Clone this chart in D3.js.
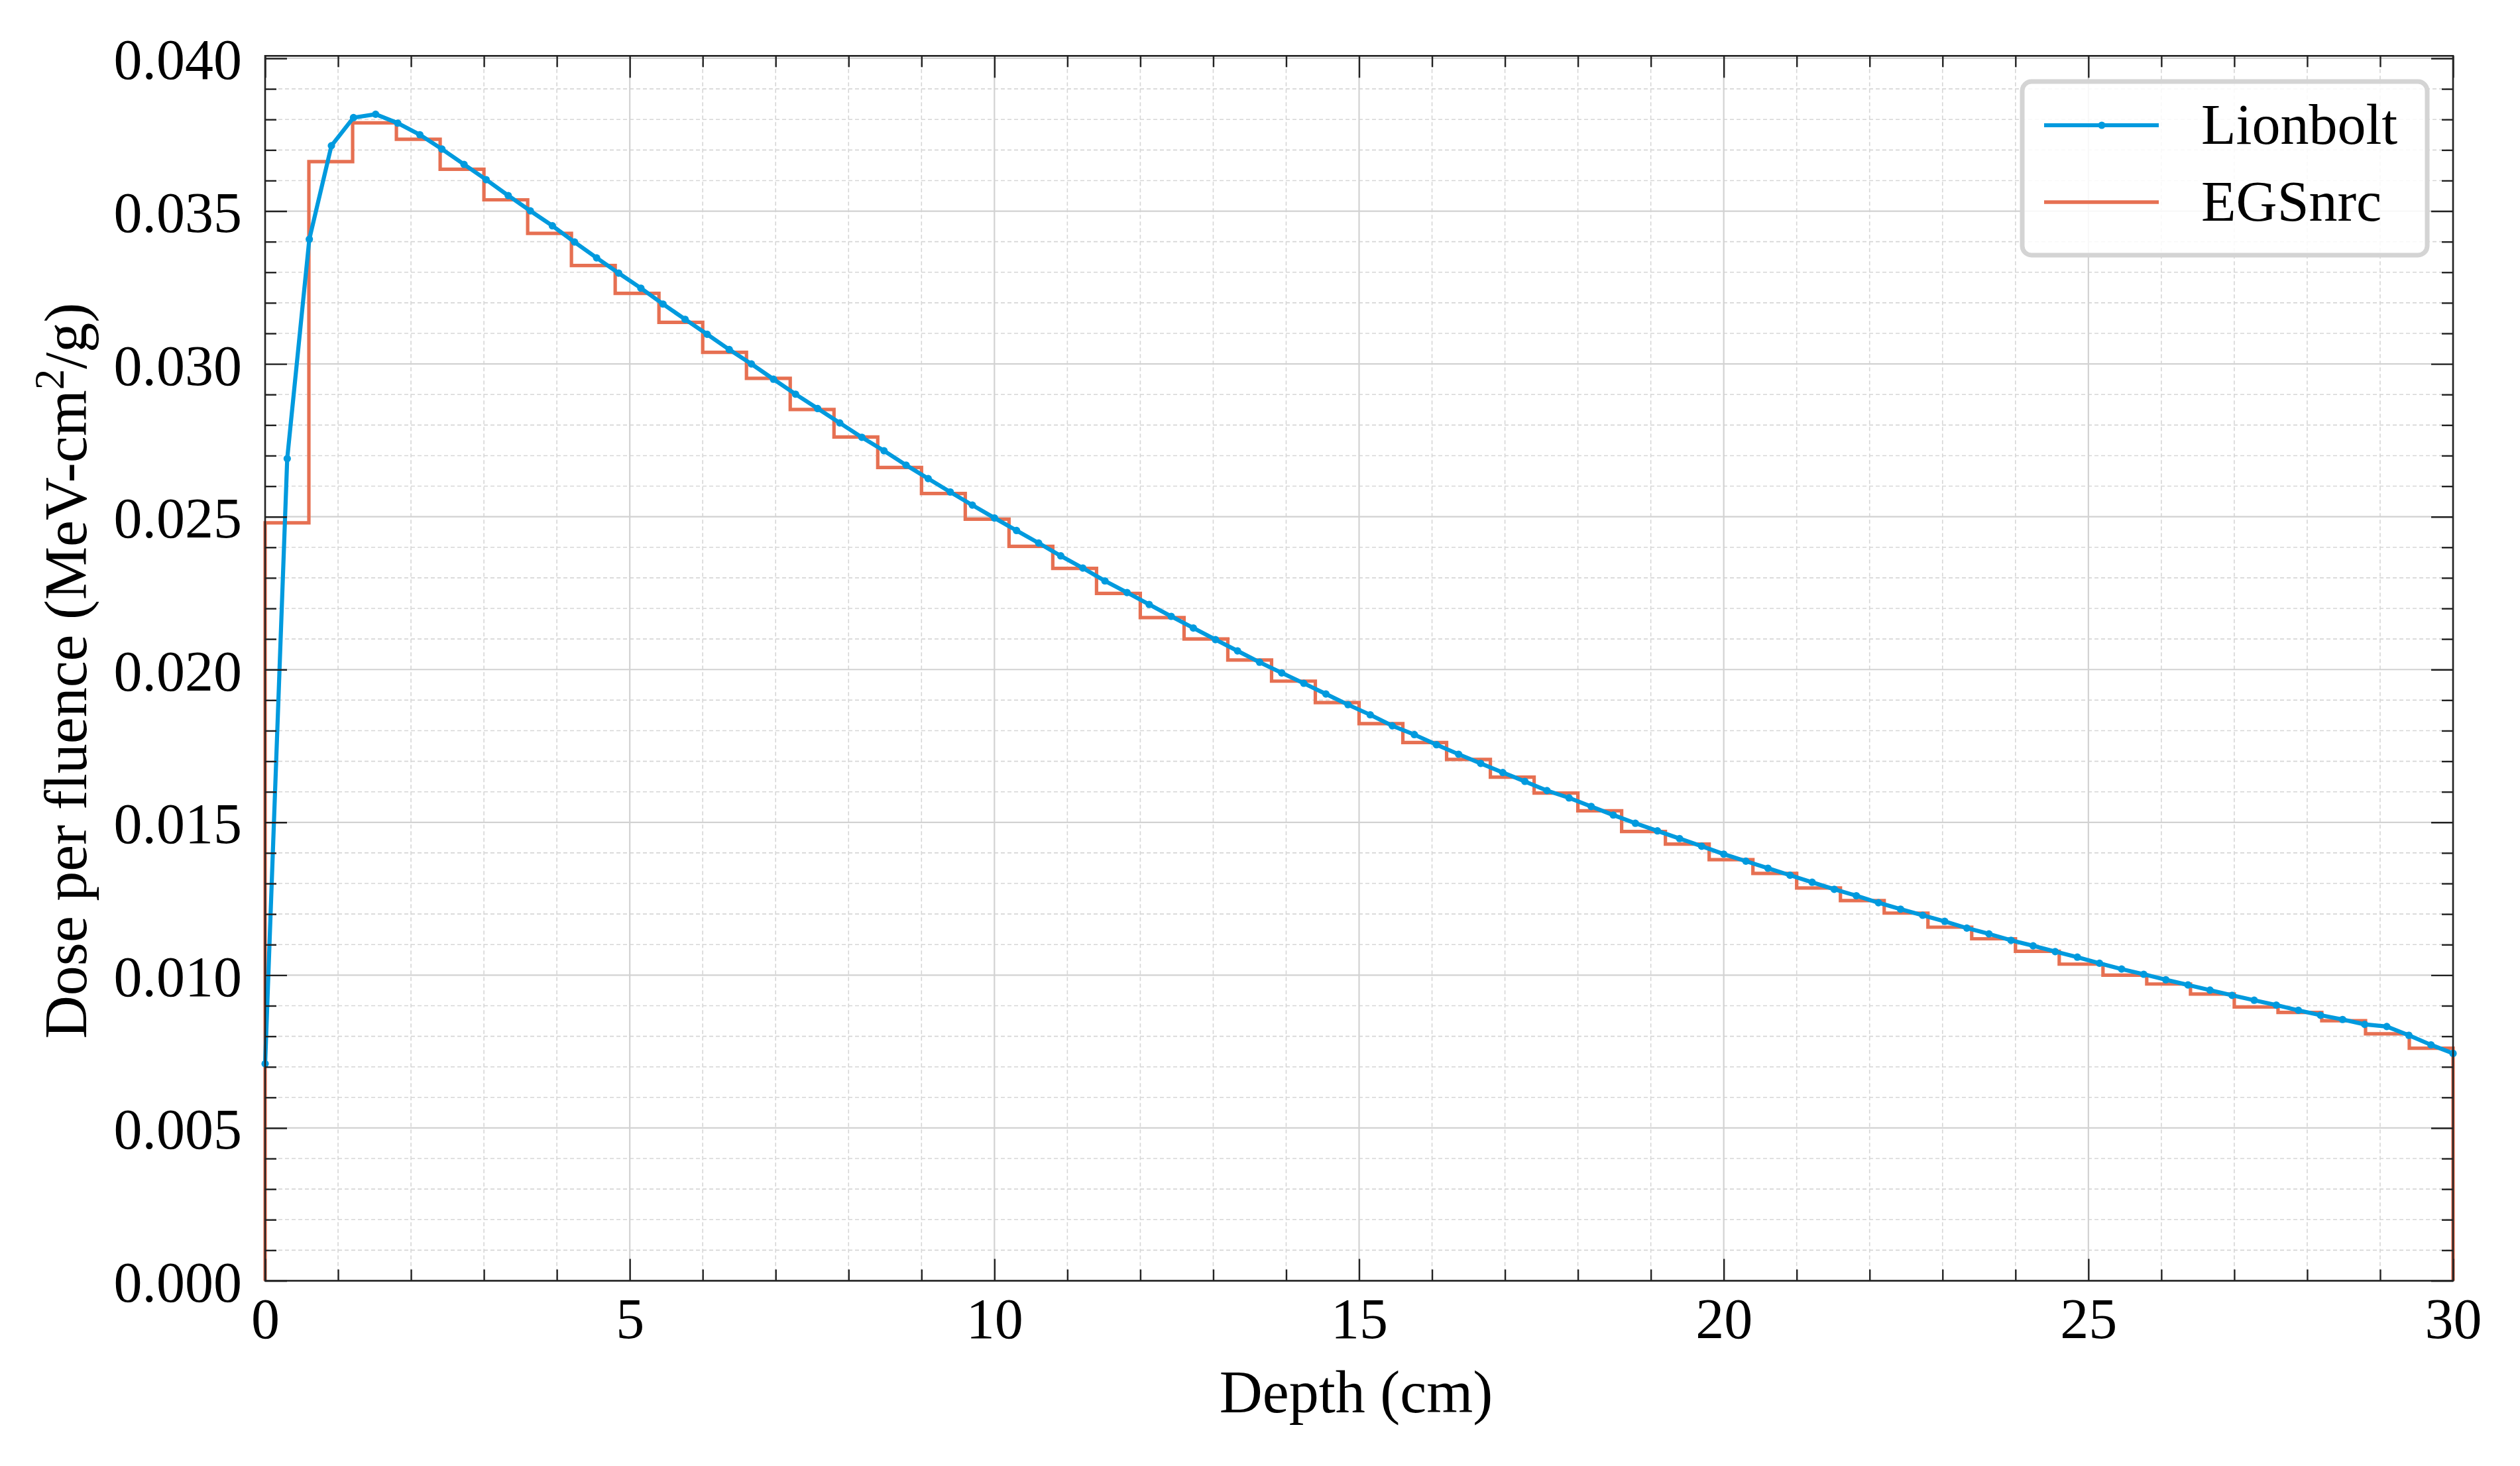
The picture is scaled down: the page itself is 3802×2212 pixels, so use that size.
<!DOCTYPE html>
<html>
<head>
<meta charset="utf-8">
<script src="https://cdn.jsdelivr.net/npm/d3@7"></script>
<style>
  html, body { margin: 0; padding: 0; background: #ffffff; }
  svg { display: block; }
</style>
</head>
<body>
<script>
// ---------------- DATA ----------------
const lionDepth = [0, 0.303, 0.606, 0.909, 1.212, 1.515, 1.818, 2.121, 2.424, 2.727,
  3.030, 3.333, 3.636, 3.939, 4.242, 4.545, 4.848, 5.152, 5.455, 5.758,
  6.061, 6.364, 6.667, 6.970, 7.273, 7.576, 7.879, 8.182, 8.485, 8.788,
  9.091, 9.394, 9.697, 10.000, 10.303, 10.606, 10.909, 11.212, 11.515, 11.818,
  12.121, 12.424, 12.727, 13.030, 13.333, 13.636, 13.939, 14.242, 14.545, 14.848,
  15.152, 15.455, 15.758, 16.061, 16.364, 16.667, 16.970, 17.273, 17.576, 17.879,
  18.182, 18.485, 18.788, 19.091, 19.394, 19.697, 20.000, 20.303, 20.606, 20.909,
  21.212, 21.515, 21.818, 22.121, 22.424, 22.727, 23.030, 23.333, 23.636, 23.939,
  24.242, 24.545, 24.848, 25.152, 25.455, 25.758, 26.061, 26.364, 26.667, 26.970,
  27.273, 27.576, 27.879, 28.182, 28.485, 28.788, 29.091, 29.394, 29.697, 30.000];

const lionDose = [0.0071, 0.0269, 0.03408, 0.03714, 0.03806, 0.03817, 0.03788, 0.03750, 0.03703, 0.03653,
  0.03603, 0.03551, 0.03501, 0.03452, 0.03399, 0.03347, 0.03297, 0.03248, 0.03196, 0.03146,
  0.03097, 0.03047, 0.03000, 0.02950, 0.02901, 0.02854, 0.02807, 0.02760, 0.02716, 0.02669,
  0.02625, 0.02581, 0.02538, 0.02496, 0.02455, 0.02414, 0.02372, 0.02332, 0.02290, 0.02252,
  0.02213, 0.02174, 0.02136, 0.02098, 0.02061, 0.02024, 0.01989, 0.01955, 0.01920, 0.01885,
  0.01852, 0.01816, 0.01787, 0.01754, 0.01723, 0.01693, 0.01663, 0.01634, 0.01604, 0.01580,
  0.01552, 0.01524, 0.01497, 0.01472, 0.01447, 0.01422, 0.01396, 0.01373, 0.01350, 0.01327,
  0.01304, 0.01281, 0.01260, 0.01237, 0.01216, 0.01196, 0.01176, 0.01154, 0.01135, 0.01114,
  0.01096, 0.01077, 0.01059, 0.01039, 0.01020, 0.01003, 0.00985, 0.00968, 0.00951, 0.00934,
  0.00918, 0.00902, 0.00885, 0.00869, 0.00855, 0.00839, 0.00832, 0.00803, 0.00772, 0.00744];

const egsEdges = [0, 0.6, 1.2, 1.8, 2.4, 3.0, 3.6, 4.2, 4.8, 5.4,
  6.0, 6.6, 7.2, 7.8, 8.4, 9.0, 9.6, 10.2, 10.8, 11.4,
  12.0, 12.6, 13.2, 13.8, 14.4, 15.0, 15.6, 16.2, 16.8, 17.4,
  18.0, 18.6, 19.2, 19.8, 20.4, 21.0, 21.6, 22.2, 22.8, 23.4,
  24.0, 24.6, 25.2, 25.8, 26.4, 27.0, 27.6, 28.2, 28.8, 29.4, 30.0];

const egsDose = [0.0248, 0.03662, 0.03789, 0.03735, 0.03637, 0.03537, 0.03427, 0.03322, 0.03231, 0.03136,
  0.03038, 0.02953, 0.02851, 0.02761, 0.02661, 0.02576, 0.02492, 0.02403, 0.02331, 0.02249,
  0.02170, 0.02100, 0.02031, 0.01962, 0.01892, 0.01823, 0.01761, 0.01706, 0.01648, 0.01596,
  0.01538, 0.01470, 0.01429, 0.01378, 0.01333, 0.01285, 0.01244, 0.01203, 0.01157, 0.01119,
  0.01078, 0.01036, 0.01000, 0.00971, 0.00938, 0.00896, 0.00878, 0.00851, 0.00808, 0.00761];

const xMajorTicks = [0, 5, 10, 15, 20, 25, 30];
const xMinorTicks = [1, 2, 3, 4, 6, 7, 8, 9, 11, 12, 13, 14, 16, 17, 18, 19, 21, 22, 23, 24, 26, 27, 28, 29];
const yMajorTicks = [0.000, 0.005, 0.010, 0.015, 0.020, 0.025, 0.030, 0.035, 0.040];
const yMinorTicks = [0.001, 0.002, 0.003, 0.004, 0.006, 0.007, 0.008, 0.009, 0.011, 0.012, 0.013, 0.014,
  0.016, 0.017, 0.018, 0.019, 0.021, 0.022, 0.023, 0.024, 0.026, 0.027, 0.028, 0.029,
  0.031, 0.032, 0.033, 0.034, 0.036, 0.037, 0.038, 0.039];

const seriesNames = ["Lionbolt", "EGSnrc"];
const xLabel = "Depth (cm)";

// ---------------- LAYOUT ----------------
const W = 3802, H = 2212;
const L = 400, R = 3701, T = 84.3, B = 1932.5;
const BLUE = "#009ade", ORANGE = "#e67052";
const FONT = "'Liberation Serif', 'Times New Roman', serif";
const FS = 86;
const FST = 90;

const svg = d3.select("body").append("svg")
  .attr("width", W).attr("height", H)
  .attr("font-family", FONT);
svg.append("rect").attr("width", W).attr("height", H).attr("fill", "#fff");

const x = d3.scaleLinear().domain([0, 30]).range([L, R]);
const y = d3.scaleLinear().domain([0, 0.04008]).range([B, T]);

// ---------------- GRID ----------------
const grid = svg.append("g");
grid.selectAll(".gxm").data(xMinorTicks).join("line")
  .attr("x1", d => x(d)).attr("x2", d => x(d)).attr("y1", T).attr("y2", B)
  .attr("stroke", "#d6d6d6").attr("stroke-width", 1.6).attr("stroke-dasharray", "6,4");
grid.selectAll(".gym").data(yMinorTicks).join("line")
  .attr("y1", d => y(d)).attr("y2", d => y(d)).attr("x1", L).attr("x2", R)
  .attr("stroke", "#d6d6d6").attr("stroke-width", 1.6).attr("stroke-dasharray", "6,4");
grid.selectAll(".gxM").data(xMajorTicks).join("line")
  .attr("x1", d => x(d)).attr("x2", d => x(d)).attr("y1", T).attr("y2", B)
  .attr("stroke", "#d2d2d2").attr("stroke-width", 2.2);
grid.selectAll(".gyM").data(yMajorTicks).join("line")
  .attr("y1", d => y(d)).attr("y2", d => y(d)).attr("x1", L).attr("x2", R)
  .attr("stroke", "#d2d2d2").attr("stroke-width", 2.2);

// ---------------- EGSnrc stairs ----------------
const stairPts = [[egsEdges[0], 0]];
egsDose.forEach((v, i) => { stairPts.push([egsEdges[i], v]); stairPts.push([egsEdges[i + 1], v]); });
stairPts.push([egsEdges[egsEdges.length - 1], 0]);
const line = d3.line().x(d => x(d[0])).y(d => y(d[1]));
svg.append("path").datum(stairPts)
  .attr("d", line).attr("fill", "none")
  .attr("stroke", ORANGE).attr("stroke-width", 5.2).attr("stroke-linejoin", "miter");

// ---------------- Lionbolt ----------------
const lionPts = lionDepth.map((d, i) => [d, lionDose[i]]);
svg.append("path").datum(lionPts)
  .attr("d", line).attr("fill", "none")
  .attr("stroke", BLUE).attr("stroke-width", 6.2).attr("stroke-linejoin", "round");
svg.append("g").selectAll("circle").data(lionPts).join("circle")
  .attr("cx", d => x(d[0])).attr("cy", d => y(d[1])).attr("r", 5.6).attr("fill", BLUE);

// ---------------- AXES ----------------
const TICKC = "#222";
function styleAxis(g) {
  g.select(".domain").remove();
  g.selectAll(".tick line").attr("stroke", TICKC).attr("stroke-width", 2.4);
}
// bottom
const gxB = svg.append("g").attr("transform", `translate(0,${B})`)
  .call(d3.axisBottom(x).tickValues(xMajorTicks).tickSize(-33).tickFormat(d3.format("d")));
styleAxis(gxB);
gxB.selectAll(".tick text").attr("y", 86).attr("dy", null)
  .attr("font-size", FS).attr("font-family", FONT).attr("fill", "#000");
svg.append("g").attr("transform", `translate(0,${B})`)
  .call(d3.axisBottom(x).tickValues(xMinorTicks).tickSize(-17).tickFormat("")).call(styleAxis);
// top
svg.append("g").attr("transform", `translate(0,${T})`)
  .call(d3.axisTop(x).tickValues(xMajorTicks).tickSize(-33).tickFormat("")).call(styleAxis);
svg.append("g").attr("transform", `translate(0,${T})`)
  .call(d3.axisTop(x).tickValues(xMinorTicks).tickSize(-17).tickFormat("")).call(styleAxis);
// left
const gyL = svg.append("g").attr("transform", `translate(${L},0)`)
  .call(d3.axisLeft(y).tickValues(yMajorTicks).tickSize(-33).tickFormat(d3.format(".3f")));
styleAxis(gyL);
gyL.selectAll(".tick text").attr("x", -35).attr("dy", "0.36em")
  .attr("font-size", FS).attr("font-family", FONT).attr("fill", "#000");
svg.append("g").attr("transform", `translate(${L},0)`)
  .call(d3.axisLeft(y).tickValues(yMinorTicks).tickSize(-17).tickFormat("")).call(styleAxis);
// right
svg.append("g").attr("transform", `translate(${R},0)`)
  .call(d3.axisRight(y).tickValues(yMajorTicks).tickSize(-33).tickFormat("")).call(styleAxis);
svg.append("g").attr("transform", `translate(${R},0)`)
  .call(d3.axisRight(y).tickValues(yMinorTicks).tickSize(-17).tickFormat("")).call(styleAxis);

// frame
svg.append("rect").attr("x", L).attr("y", T).attr("width", R - L).attr("height", B - T)
  .attr("fill", "none").attr("stroke", TICKC).attr("stroke-width", 2.6);

// ---------------- LABELS ----------------
svg.append("text").attr("x", 2046).attr("y", 2131)
  .attr("text-anchor", "middle").attr("font-size", FST).text(xLabel);

const yl = svg.append("text")
  .attr("transform", `translate(130,1012) rotate(-90)`)
  .attr("text-anchor", "middle").attr("font-size", FST);
yl.append("tspan").text("Dose per fluence (MeV-cm");
yl.append("tspan").attr("dy", -34).attr("font-size", 63).text("2");
yl.append("tspan").attr("dy", 34).text("/g)");

// ---------------- LEGEND ----------------
const lg = svg.append("g");
lg.append("rect").attr("x", 3051).attr("y", 123).attr("width", 611).attr("height", 262)
  .attr("rx", 14).attr("ry", 14)
  .attr("fill", "#fff").attr("fill-opacity", 0.85)
  .attr("stroke", "#d4d4d4").attr("stroke-width", 7);
const legendRows = [
  { name: seriesNames[0], color: BLUE, width: 6.2, marker: true, ly: 189 },
  { name: seriesNames[1], color: ORANGE, width: 5.6, marker: false, ly: 305 }
];
legendRows.forEach(r => {
  lg.append("line").attr("x1", 3084).attr("x2", 3257).attr("y1", r.ly).attr("y2", r.ly)
    .attr("stroke", r.color).attr("stroke-width", r.width);
  if (r.marker) lg.append("circle").attr("cx", 3171).attr("cy", r.ly).attr("r", 5.6).attr("fill", r.color);
  lg.append("text").attr("x", 3321).attr("y", r.ly + 28).attr("font-size", FS).text(r.name);
});
</script>
</body>
</html>
